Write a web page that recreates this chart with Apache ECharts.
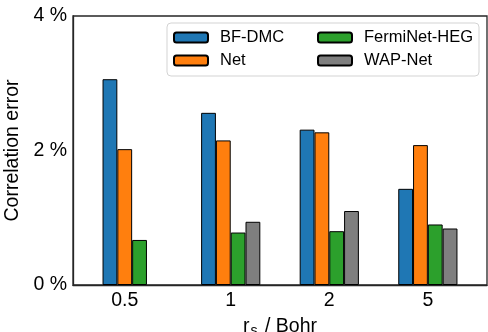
<!DOCTYPE html>
<html>
<head>
<meta charset="utf-8">
<script src="https://cdn.jsdelivr.net/npm/echarts@6/dist/echarts.min.js"></script>
<style>
  html, body { margin: 0; padding: 0; background: #fff; }
  #chart { width: 488px; height: 332px; }
</style>
</head>
<body>
<div id="chart"></div>
<script>
// r_s values (Bohr), shown as tick labels
const categories = ['0.5', '1', '2', '5'];
// correlation error in %
const bfDmc = [3.06, 2.56, 2.31, 1.43];
const net = [2.02, 2.15, 2.27, 2.08];
const fermiNet = [0.67, 0.78, 0.80, 0.90];
const wapNet = [null, 0.94, 1.10, 0.84];
const yTicks = [0, 2, 4];

const font = 'Liberation Sans, Arial, sans-serif';
const toPoints = arr => arr.map((v, i) => [i, v == null ? '-' : v]);

// the 0.5 group has only three bars, its label sits under their middle
const labelPos = [-0.075, 1, 2, 3];

const chart = echarts.init(document.getElementById('chart'));

const barStyle = color => ({ color: color, borderColor: '#000', borderWidth: 1 });
const legendText = { fontSize: 16.5, color: '#000', fontFamily: font, padding: [0, 0, 0, 7], lineHeight: 17 };

chart.setOption({
  animation: false,
  textStyle: { fontFamily: font },
  graphic: [{
    type: 'rect',
    z: 3,
    shape: { x: 167, y: 23, width: 312, height: 53, r: 4 },
    style: { fill: 'rgba(255,255,255,0.8)', stroke: '#d3d3d3', lineWidth: 1 }
  }],
  legend: [{
    data: ['BF-DMC', 'Net'],
    orient: 'vertical',
    left: 173, top: 29, padding: 0,
    itemWidth: 34, itemHeight: 10, itemGap: 6,
    textStyle: legendText,
    z: 5
  }, {
    data: ['FermiNet-HEG', 'WAP-Net'],
    orient: 'vertical',
    left: 317, top: 29, padding: 0,
    itemWidth: 34, itemHeight: 10, itemGap: 6,
    textStyle: legendText,
    z: 5
  }],
  grid: {
    left: 73, right: 1, top: 16, bottom: 47,
    outerBoundsMode: 'none',
    containLabel: false,
    show: true, borderColor: '#262626', borderWidth: 1.3, backgroundColor: 'transparent'
  },
  xAxis: {
    type: 'value',
    min: -0.6, max: 3.6,
    name: '{r|r}{s|s}{r| / Bohr}',
    nameLocation: 'middle',
    nameGap: 30,
    nameTextStyle: {
      rich: {
        r: { fontSize: 19.5, color: '#000', fontFamily: font },
        s: { fontSize: 14, color: '#000', fontFamily: font, padding: [9, 2, 0, 1] }
      }
    },
    axisLine: { show: true, onZero: false, lineStyle: { color: '#262626', width: 1.3 } },
    axisTick: { show: false },
    splitLine: { show: false },
    axisLabel: {
      customValues: labelPos,
      fontSize: 19.5, color: '#000', margin: 6,
      formatter: v => categories[labelPos.indexOf(v)]
    }
  },
  yAxis: {
    type: 'value',
    min: yTicks[0], max: yTicks[yTicks.length - 1], interval: 2,
    name: 'Correlation error',
    nameLocation: 'middle',
    nameGap: 41,
    nameTextStyle: { fontSize: 19.5, color: '#000', fontFamily: font },
    axisLine: { show: true, onZero: false, lineStyle: { color: '#262626', width: 1.3 } },
    axisTick: { show: false },
    splitLine: { show: false },
    axisLabel: { fontSize: 19.5, color: '#000', margin: 6, formatter: '{value} %' }
  },
  series: [
    { name: 'BF-DMC', type: 'bar', data: toPoints(bfDmc), barWidth: 14.8, barGap: '0%', itemStyle: barStyle('#1f77b4') },
    { name: 'Net', type: 'bar', data: toPoints(net), barWidth: 14.8, barGap: '0%', itemStyle: barStyle('#ff7f0e') },
    { name: 'FermiNet-HEG', type: 'bar', data: toPoints(fermiNet), barWidth: 14.8, barGap: '0%', itemStyle: barStyle('#2ca02c') },
    { name: 'WAP-Net', type: 'bar', data: toPoints(wapNet), barWidth: 14.8, barGap: '0%', itemStyle: barStyle('#7f7f7f') }
  ]
});
</script>
</body>
</html>
